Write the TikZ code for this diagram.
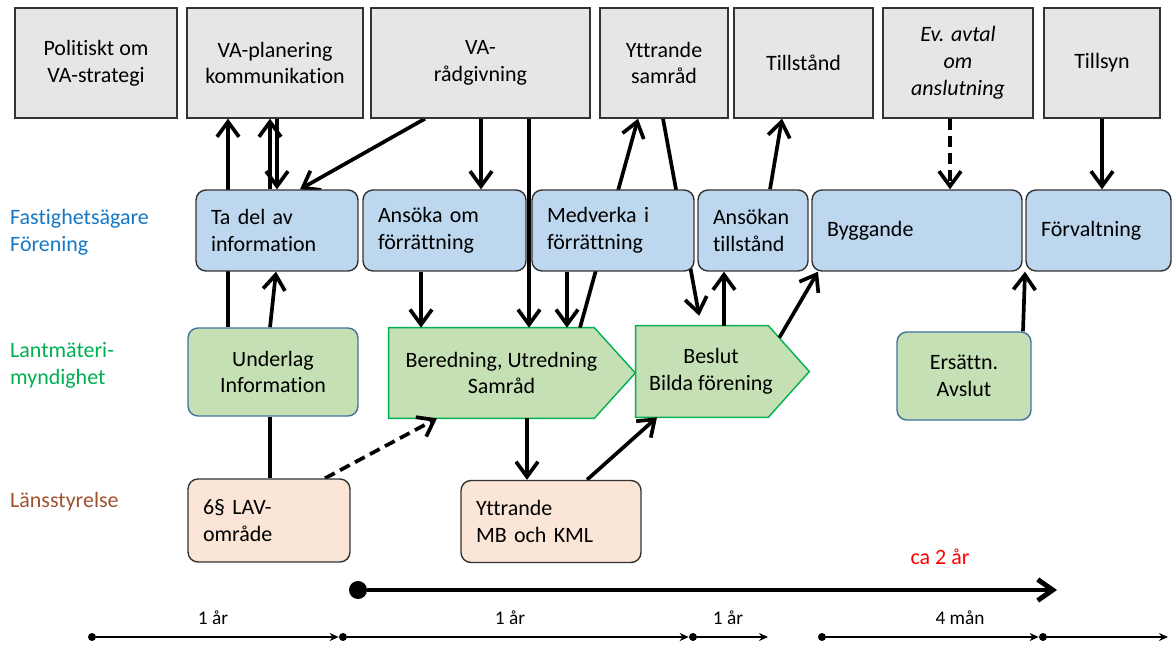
\documentclass[tikz,border=0pt]{standalone}
\usepackage{fontspec}
\setmainfont{Carlito}[Ligatures=NoCommon]
\usetikzlibrary{arrows.meta,backgrounds,calc}

\definecolor{boxgray}{RGB}{231,230,230}
\definecolor{ownerblue}{RGB}{189,215,238}
\definecolor{lmgreen}{RGB}{197,224,180}
\definecolor{lstpeach}{RGB}{251,229,214}
\definecolor{sigborder}{RGB}{0,176,80}
\definecolor{ulborder}{RGB}{65,113,156}
\definecolor{laneblue}{RGB}{20,120,200}
\definecolor{lanegreen}{RGB}{0,176,80}
\definecolor{lanebrown}{RGB}{160,82,45}

\newcommand{\diagfont}{\fontsize{12.5}{15.3}\selectfont}
\newcommand{\timefont}{\fontsize{11}{13}\selectfont}

\tikzset{
	topbox/.style={draw=black!80, fill=boxgray, line width=0.8pt, minimum height=2.2cm, align=center, font=\diagfont},
	ownerbox/.style={draw=black!80, fill=ownerblue, rounded corners=0.2cm, line width=0.8pt, minimum height=1.62cm, inner xsep=0.3cm, align=left, font=\diagfont},
	lmbox/.style={draw=ulborder, fill=lmgreen, rounded corners=0.2cm, line width=0.8pt, minimum height=1.76cm, align=center, font=\diagfont},
	sigtext/.style={minimum height=1.8cm, align=center, font=\diagfont},
	sigline/.style={draw=sigborder, fill=lmgreen, line width=0.8pt},
	lstbox/.style={draw=black!80, fill=lstpeach, rounded corners=0.2cm, line width=0.8pt, minimum height=1.64cm, inner xsep=0.3cm, align=left, font=\diagfont},
	lane/.style={anchor=west, align=left, font=\diagfont},
	arr/.style={line width=2.1pt, -{Straight Barb[length=0.3cm,width=0.44cm]}},
	dasharr/.style={arr, dash pattern=on 0.22cm off 0.12cm},
	tdot/.style={circle, fill=black, inner sep=0pt, minimum size=0.16cm},
	tarr/.style={line width=1.1pt, -{Stealth[length=0.18cm,width=0.16cm]}},
}

\begin{document}
\begin{tikzpicture}[x=0.02cm, y=-0.02cm]
	\useasboundingbox (0,0) rectangle (1173,645);
	
	% Övre rad
	\node (pol) [topbox, minimum width=3.24cm] at (96,63) {Politiskt om\\VA-strategi};
	\node (plan) [topbox, minimum width=3.52cm] at (275,63) {VA-planering\\kommunikation};
	\node (rad) [topbox, minimum width=4.38cm] at (480.5,63) {VA-\\rådgivning};
	\node (ytt) [topbox, minimum width=2.56cm] at (664,63) {Yttrande\\samråd};
	\node (till) [topbox, minimum width=2.78cm] at (803.5,63) {Tillstånd};
	\node (avtal) [topbox, minimum width=3cm, font=\diagfont\itshape] at (958,63) {Ev. avtal\\om\\anslutning};
	\node (tillsyn) [topbox, minimum width=2.32cm] at (1102,63) {Tillsyn};
	
	% Fastighetsägare
	\node (lane1) [lane, text=laneblue] at (4,232) {Fastighetsägare\\Förening};
	\node (tadel) [ownerbox, text width=2.64cm] at (277,230.5) {Ta del av\\information};
	\node (ansoka) [ownerbox, text width=2.66cm] at (444.5,230.5) {Ansöka om\\förrättning};
	\node (medverka) [ownerbox, text width=2.64cm] at (613,230.5) {Medverka i\\förrättning};
	\node (ansokan) [ownerbox, text width=1.6cm] at (753,230.5) {Ansökan\\tillstånd};
	\node (bygg) [ownerbox, text width=3.6cm] at (917,230.5) {Byggande};
	\node (forv) [ownerbox, text width=2.3cm] at (1098.5,230.5) {Förvaltning};
	
	% Lantmäterimyndighet
	\node (lane2) [lane, text=lanegreen] at (4,365) {Lantmäteri-\\myndighet};
	\node (underlag) [lmbox, minimum width=3.4cm] at (273,372) {Underlag\\Information};
	\node (bered) [sigtext, minimum width=4.5cm] at (501.5,373) {Beredning, Utredning\\Samråd};
	\node (beslut) [sigtext, minimum width=3cm, minimum height=1.82cm] at (711,371.5) {Beslut\\Bilda förening};
	\node (ersatt) [lmbox, minimum width=2.68cm] at (964,376) {Ersättn.\\Avslut};
	
	% Länsstyrelse
	\node (lane3) [lane, text=lanebrown] at (4,502) {Länsstyrelse};
	\node (lav) [lstbox, text width=2.64cm, minimum height=1.66cm] at (269,520.5) {6§ LAV-\\område};
	\node (yttmb) [lstbox, text width=3cm] at (551,521.5) {Yttrande\\MB och KML};
	
	\begin{scope}[on background layer]
		% Pilformer
		\draw[sigline] (bered.north west) -- ($(bered.north east)+(-20,0)$) -- ($(bered.east)+(21,0)$) -- ($(bered.south east)+(-20,0)$) -- (bered.south west) -- cycle;
		\draw[sigline] (beslut.north west) -- ($(beslut.north east)+(-18,0)$) -- ($(beslut.east)+(23,0)$) -- ($(beslut.south east)+(-18,0)$) -- (beslut.south west) -- cycle;
		
		% Pilar
		\draw[arr] (underlag.north -| 228,0) -- (plan.south -| 228,0);
		\draw[arr] (underlag.north -| 270,0) -- (tadel.south -| 276,0);
		\draw[arr] (tadel.north -| 270,0) -- (plan.south -| 270,0);
		\draw[arr] (plan.south -| 277,0) -- (tadel.north -| 277,0);
		\draw[line width=2.1pt] (underlag.south -| 270,0) -- (lav.north -| 270,0);
		\draw[arr] (rad.south -| 425,0) -- (tadel.north -| 300,0);
		\draw[arr] (rad.south -| 481,0) -- (ansoka.north -| 481,0);
		\draw[arr] (rad.south -| 529,0) -- (bered.north -| 529,0);
		\draw[arr] (ansoka.south -| 421,0) -- (bered.north -| 421,0);
		\draw[arr] (medverka.south -| 567,0) -- (bered.north -| 567,0);
		\draw[arr] (bered.north -| 580,0) -- (ytt.south -| 638,0);
		\draw[arr, shorten >=0.2cm] (ytt.south -| 663,0) -- (beslut.north -| 701,0);
		\draw[arr] (beslut.north -| 724,0) -- (ansokan.south -| 724,0);
		\draw[arr] (ansokan.north -| 770,0) -- (till.south -| 782,0);
		\draw[arr] ($(beslut.north east)+(-7,12)$) -- (bygg.south -| 818,0);
		\draw[dasharr] (avtal.south -| 950,0) -- (bygg.north -| 950,0);
		\draw[arr] (tillsyn.south) -- (forv.north -| 1102,0);
		\draw[arr] (ersatt.north -| 1023,0) -- (forv.south -| 1025,0);
		\draw[dasharr] (lav.north -| 325,0) -- (bered.south -| 437,0);
		\draw[arr] (bered.south -| 527,0) -- (yttmb.north -| 527,0);
		\draw[arr] (yttmb.north -| 587,0) -- (beslut.south -| 657,0);
	\end{scope}
	
	% Tidslinje
	\node (start) [circle, fill=black, inner sep=0pt, minimum size=0.36cm] at (358,590) {};
	\coordinate (slut) at (1057,590);
	\draw[line width=2.8pt, -{Straight Barb[length=0.3cm,width=0.42cm]}] (start) -- (slut);
	\node (ca) [text=red, font=\diagfont] at (940,557) {ca 2 år};
	
	\node (t1) [tdot] at (92,637) {};
	\node (t2) [tdot] at (343,637) {};
	\node (t3) [tdot] at (693,637) {};
	\coordinate (e1) at (768,637);
	\node (t4) [tdot] at (822,637) {};
	\node (t5) [tdot] at (1043,637) {};
	\coordinate (e2) at (1168,637);
	\draw[tarr] (t1) -- (t2);
	\draw[tarr] (t2) -- (t3);
	\draw[tarr] (t3) -- (e1);
	\draw[tarr] (t4) -- (t5);
	\draw[tarr] (t5) -- (e2);
	\node (d1) [font=\timefont] at (213,618) {1 år};
	\node (d2) [font=\timefont] at (510,618) {1 år};
	\node (d3) [font=\timefont] at (728,618) {1 år};
	\node (d4) [font=\timefont] at (960,618) {4 mån};
	
\end{tikzpicture}
\end{document}
